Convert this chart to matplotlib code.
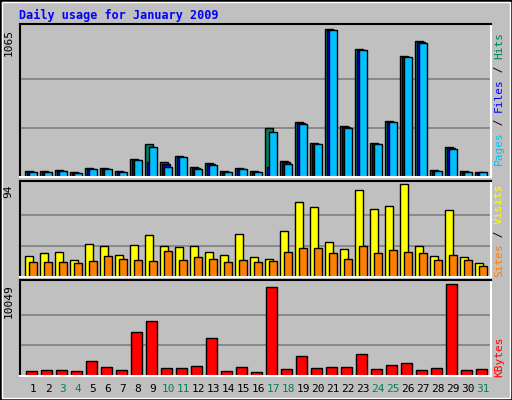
import matplotlib
matplotlib.use("Agg")
import matplotlib.pyplot as plt
from matplotlib.patches import Rectangle
import numpy as np

days = list(range(1, 32))
weekends = [3, 4, 10, 11, 17, 18, 24, 25, 31]
hits = [41,41,48,34,63,63,41,128,236,106,149,70,99,41,63,41,352,113,395,243,1065,366,923,243,402,872,981,48,214,41,34]
files = [38,38,45,31,60,60,38,124,106,92,146,66,95,38,60,38,72,106,390,240,1060,362,918,240,398,868,976,45,210,38,31]
pages = [34,34,41,27,55,55,34,120,214,70,142,55,84,34,55,34,323,92,381,236,1060,352,916,236,395,865,966,41,200,34,34]
visits = [21,24,25,17,33,31,22,32,42,31,30,31,25,22,43,20,18,47,76,71,35,28,88,69,72,94,31,21,68,20,14]
sites = [15,15,15,14,16,21,18,17,16,26,17,20,18,15,17,15,16,25,29,29,24,18,31,24,27,25,24,17,22,17,11]
kbytes = [546,655,655,546,1638,983,655,4805,6006,874,874,1092,4150,546,983,437,9719,764,2184,874,983,983,2402,764,1201,1420,655,874,10049,655,764]

W, H = 512, 400
BG = "#c0c0c0"
fig = plt.figure(figsize=(W/100, H/100), dpi=100, facecolor=BG)
fig.patches.append(Rectangle((0, 0), 1, 1, transform=fig.transFigure, fill=False, ec="black", lw=2))
fig.patches.append(Rectangle((2/W, 2/H), 1-4/W, 1-4/H, transform=fig.transFigure, fill=False, ec="white", lw=1))

def mkax(top, bottom):
    ax = fig.add_axes([20/W, 1-bottom/H, (491-20)/W, (bottom-top)/H])
    ax.set_facecolor(BG)
    ax.set_xlim(1-13/15, 1+(491-33)/15)
    for s in ("top", "left"):
        ax.spines[s].set_color("black")
    for s in ("bottom", "right"):
        ax.spines[s].set_color("white")
    for s in ax.spines.values():
        s.set_linewidth(1.5)
    ax.set_xticks([]); ax.set_yticks([])
    return ax

x = np.array(days, dtype=float)
u = 1/15
mono = "DejaVu Sans Mono"

# top panel
ax1 = mkax(24, 177)
top1 = 1065 * (177-24) / (177-29.3)
ax1.set_ylim(0, top1)
for g in (1065/3, 2*1065/3):
    ax1.axhline(g, color="#808080", lw=1.2, zorder=0)
kw = dict(edgecolor="black", linewidth=1, align="edge")
ax1.bar(x-8*u, hits, width=8*u, color="#00805c", **kw)
ax1.bar(x-6*u, files, width=8*u, color="#0000ff", **kw)
ax1.bar(x-4*u, pages, width=8*u, color="#00c0ff", **kw)
ax1.text(-0.025, 1-(29.3-24)/153, "1065", rotation=90, transform=ax1.transAxes,
         ha="center", va="top", fontsize=8, family=mono)

# middle panel
ax2 = mkax(180.7, 276.7)
top2 = 94 * 96 / 92.4
ax2.set_ylim(0, top2)
for g in (94/3, 2*94/3):
    ax2.axhline(g, color="#808080", lw=1.2, zorder=0)
ax2.bar(x-8*u, visits, width=8*u, color="#ffff00", **kw)
ax2.bar(x-4*u, sites, width=8*u, color="#ff8000", **kw)
ax2.text(-0.025, 1-(184.3-180.7)/96, "94", rotation=90, transform=ax2.transAxes,
         ha="center", va="top", fontsize=8, family=mono)

# bottom panel
ax3 = mkax(280, 376)
top3 = 10049 * 96 / 92
ax3.set_ylim(0, top3)
for g in (10049/3, 2*10049/3):
    ax3.axhline(g, color="#808080", lw=1.2, zorder=0)
ax3.bar(x-7*u, kbytes, width=11*u, color="#ff0000", **kw)
ax3.text(-0.025, 1-(284-280)/96, "10049", rotation=90, transform=ax3.transAxes,
         ha="center", va="top", fontsize=8, family=mono)

for d in days:
    fig.text((33+15*(d-1))/W, 1-389/H, str(d), ha="center", va="center",
             fontsize=8, family=mono, color="#00805c" if d in weekends else "black")

fig.text(19/W, 1-15/H, "Daily usage for January 2009", color="#0000ff", fontsize=8.5,
         family=mono, fontweight="bold", ha="left", va="center")

def rlabel(parts, xpix, ybot):
    y = ybot
    for txt, col in parts:
        fig.text(xpix/W, 1-y/H, txt, rotation=90, color=col, fontsize=8, family=mono,
                 ha="center", va="bottom")
        y -= len(txt) * 6.6

rlabel([("Pages", "#00c0ff"), (" / ", "black"), ("Files", "#0000ff"), (" / ", "black"), ("Hits", "#00805c")], 499, 165)
rlabel([("Sites", "#ff8000"), (" / ", "black"), ("Visits", "#ffff00")], 499, 277)
rlabel([("KBytes", "#ff0000")], 499, 377)

fig.savefig("out.png", dpi=100, facecolor=BG)
